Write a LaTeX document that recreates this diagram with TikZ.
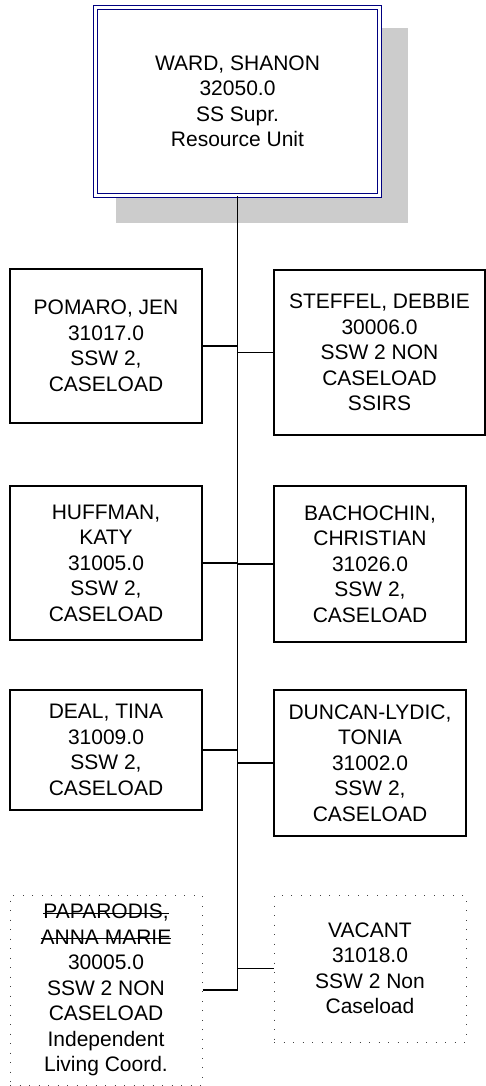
\documentclass[tikz,border=0pt]{standalone}
\usepackage{fontspec}
\setmainfont{Liberation Sans}
\usetikzlibrary{backgrounds}
\definecolor{supnavy}{HTML}{000080}
\definecolor{shadegray}{HTML}{CCCCCC}
\newcommand{\strk}[1]{\leavevmode\setbox0\hbox{#1}\rlap{\rule[5pt]{\wd0}{1pt}}\box0}
\tikzset{
  supb/.style={draw=supnavy, double, double distance=2.6pt, line width=1.3pt, fill=white,
    align=center, inner sep=0pt, minimum width=284pt, minimum height=188pt},
  posb/.style={draw=black, line width=1.2pt, fill=white, align=center, inner sep=0pt,
    minimum width=192pt},
  openb/.style={draw=black!75, line width=1pt, dash pattern=on 1pt off 8.5pt,
    align=center, inner sep=0pt, minimum width=192pt},
  link/.style={line width=1.2pt, draw=black},
}

\begin{document}
\begin{tikzpicture}[x=1pt, y=-1pt, font=\fontsize{21pt}{25.5pt}\selectfont]
    \useasboundingbox (0,0) rectangle (486,1086);
    % supervisor
    \node[supb] (ward) at (237.5,101.5) {WARD, SHANON\\32050.0\\SS Supr.\\Resource Unit};
    % staff, left column
    \node[posb, minimum height=154pt] (pomaro) at (106,346) {POMARO, JEN\\31017.0\\SSW 2,\\CASELOAD};
    \node[posb, minimum height=154pt] (huffman) at (106,563) {HUFFMAN,\\KATY\\31005.0\\SSW 2,\\CASELOAD};
    \node[posb, minimum height=120pt] (deal) at (106,750) {DEAL, TINA\\31009.0\\SSW 2,\\CASELOAD};
    \node[openb, minimum height=190pt] (paparodis) at (106,990)
      {\strk{PAPARODIS,}\\\strk{ANNA MARIE}\\30005.0\\SSW 2 NON\\CASELOAD\\Independent\\Living Coord.};
    % staff, right column
    \node[posb, minimum width=211pt, minimum height=165pt] (steffel) at (379.5,352.5)
      {STEFFEL, DEBBIE\\30006.0\\SSW 2 NON\\CASELOAD\\SSIRS};
    \node[posb, minimum height=156pt] (bachochin) at (370,564) {BACHOCHIN,\\CHRISTIAN\\31026.0\\SSW 2,\\CASELOAD};
    \node[posb, minimum height=146pt] (duncan) at (370,763) {DUNCAN-LYDIC,\\TONIA\\31002.0\\SSW 2,\\CASELOAD};
    \node[openb, minimum height=147pt] (vacant) at (370,968.5) {VACANT\\31018.0\\SSW 2 Non\\Caseload};
    % shadow behind supervisor
    \begin{scope}[on background layer]
      \fill[shadegray] ([shift={(21.5,21.5)}]ward.north west) rectangle ([shift={(27.5,26.5)}]ward.south east);
    \end{scope}
    % connectors
    \draw[link] (ward.south) -- (ward.south |- paparodis.east);
    \foreach \n in {pomaro,huffman,deal,paparodis}
      \draw[link] (\n.east) -- (\n.east -| ward.south);
    \foreach \n in {steffel,bachochin,duncan,vacant}
      \draw[link] (\n.west) -- (\n.west -| ward.south);
\end{tikzpicture}
\end{document}
